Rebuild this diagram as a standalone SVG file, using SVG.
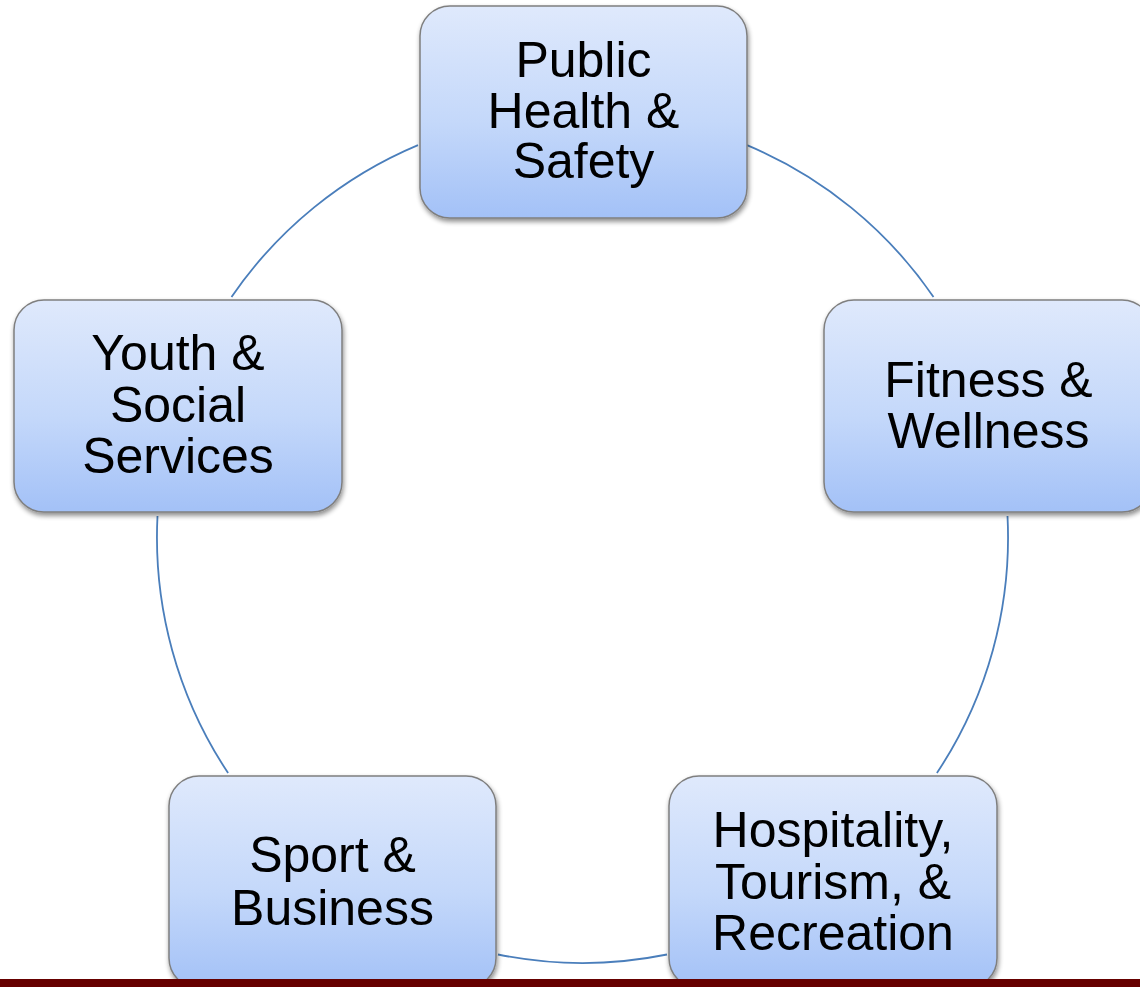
<svg xmlns="http://www.w3.org/2000/svg" width="1140" height="987" viewBox="0 0 1140 987">
  <defs>
    <linearGradient id="boxFill" x1="0" y1="0" x2="0" y2="1">
      <stop offset="0" stop-color="#dfe9fc"/>
      <stop offset="0.55" stop-color="#c4d8fa"/>
      <stop offset="1" stop-color="#a3c1f7"/>
    </linearGradient>
    <filter id="shadow" x="-10%" y="-10%" width="125%" height="125%">
      <feGaussianBlur in="SourceAlpha" stdDeviation="2.5"/>
      <feOffset dx="1" dy="3" result="b"/>
      <feComponentTransfer><feFuncA type="linear" slope="0.45"/></feComponentTransfer>
      <feMerge><feMergeNode/><feMergeNode in="SourceGraphic"/></feMerge>
    </filter>
  </defs>
  <style>
    .box { fill: url(#boxFill); stroke: #7f7f7f; stroke-width: 1.5; filter: url(#shadow); }
    .label { font-family: "Liberation Sans", Arial, sans-serif; font-size: 50px; fill: #000; text-anchor: middle; }
    .ring { fill: none; stroke: #4a7ebb; stroke-width: 1.8; }
  </style>

  <rect width="1140" height="987" fill="#ffffff"/>

  <!-- circular connectors between the boxes -->
  <g id="connectors">
    <path class="ring" d="M418,145.1 A425.5,425.5 0 0 0 231.5,297"/>
    <path class="ring" d="M157.5,516 A425.5,425.5 0 0 0 228.1,773"/>
    <path class="ring" d="M498,954.5 A425.5,425.5 0 0 0 667,954.5"/>
    <path class="ring" d="M936.9,773 A425.5,425.5 0 0 0 1007.5,516"/>
    <path class="ring" d="M933.5,297 A425.5,425.5 0 0 0 747,145.1"/>
  </g>

  <g id="public-health">
    <rect class="box" x="420" y="6" width="327" height="212" rx="30" ry="30"/>
    <text class="label"><tspan x="583.5" y="77">Public</tspan><tspan x="583.5" y="127.5">Health &amp;</tspan><tspan x="583.5" y="178">Safety</tspan></text>
  </g>

  <g id="fitness">
    <rect class="box" x="824" y="300" width="328" height="212" rx="30" ry="30"/>
    <text class="label"><tspan x="988.5" y="397">Fitness &amp;</tspan><tspan x="988.5" y="448">Wellness</tspan></text>
  </g>

  <g id="youth">
    <rect class="box" x="14" y="300" width="328" height="212" rx="30" ry="30"/>
    <text class="label"><tspan x="178" y="370">Youth &amp;</tspan><tspan x="178" y="421.5">Social</tspan><tspan x="178" y="473">Services</tspan></text>
  </g>

  <g id="sport">
    <rect class="box" x="169" y="776" width="327" height="212" rx="30" ry="30"/>
    <text class="label"><tspan x="332.5" y="872">Sport &amp;</tspan><tspan x="332.5" y="925">Business</tspan></text>
  </g>

  <g id="hospitality">
    <rect class="box" x="669" y="776" width="328" height="212" rx="30" ry="30"/>
    <text class="label"><tspan x="833" y="847">Hospitality,</tspan><tspan x="833" y="899">Tourism, &amp;</tspan><tspan x="833" y="950">Recreation</tspan></text>
  </g>

  <!-- footer band -->
  <rect x="0" y="979" width="1140" height="8" fill="#660000"/>
</svg>
